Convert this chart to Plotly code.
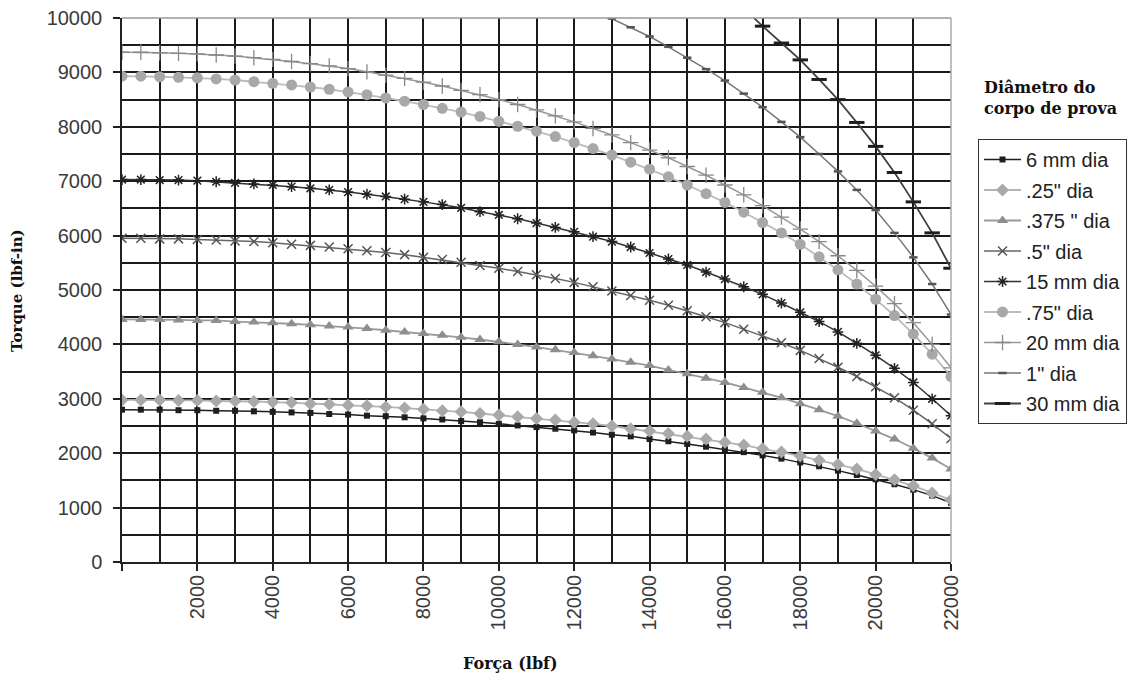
import plotly.graph_objects as go

# ---------------- data ----------------
force = [0, 500, 1000, 1500, 2000, 2500, 3000, 3500, 4000, 4500, 5000, 5500,
         6000, 6500, 7000, 7500, 8000, 8500, 9000, 9500, 10000, 10500, 11000,
         11500, 12000, 12500, 13000, 13500, 14000, 14500, 15000, 15500, 16000,
         16500, 17000, 17500, 18000, 18500, 19000, 19500, 20000, 20500, 21000,
         21500, 22000]

t_6mm = [2800, 2800, 2800, 2790, 2790, 2780, 2780, 2770, 2760, 2750,
         2740, 2720, 2710, 2690, 2680, 2660, 2640, 2620, 2590, 2570,
         2540, 2510, 2480, 2450, 2420, 2380, 2340, 2310, 2260, 2220,
         2170, 2120, 2070, 2020, 1960, 1900, 1830, 1760, 1680, 1600,
         1520, 1430, 1330, 1220, 1090]

t_025in = [2980, 2980, 2980, 2970, 2970, 2960, 2960, 2950, 2940, 2930,
           2910, 2900, 2880, 2870, 2850, 2830, 2810, 2780, 2760, 2730,
           2700, 2670, 2640, 2610, 2570, 2540, 2500, 2450, 2410, 2360,
           2310, 2260, 2200, 2150, 2080, 2020, 1950, 1870, 1790, 1710,
           1610, 1510, 1400, 1270, 1140]

t_0375in = [4460, 4460, 4460, 4450, 4440, 4440, 4420, 4410, 4400, 4380,
            4360, 4340, 4320, 4290, 4260, 4230, 4200, 4170, 4130, 4090,
            4050, 4000, 3950, 3900, 3850, 3790, 3730, 3670, 3610, 3530,
            3460, 3380, 3300, 3210, 3120, 3020, 2910, 2800, 2680, 2550,
            2410, 2260, 2090, 1910, 1710]

t_05in = [5950, 5950, 5940, 5940, 5930, 5920, 5900, 5890, 5870, 5840,
          5820, 5790, 5760, 5720, 5690, 5650, 5600, 5560, 5510, 5450,
          5400, 5340, 5280, 5210, 5140, 5060, 4980, 4900, 4810, 4720,
          4620, 4510, 4400, 4280, 4160, 4030, 3890, 3740, 3580, 3410,
          3220, 3020, 2790, 2540, 2270]

t_15mm = [7030, 7030, 7020, 7020, 7010, 6990, 6970, 6950, 6930, 6900,
          6870, 6840, 6800, 6760, 6720, 6670, 6620, 6570, 6510, 6440,
          6380, 6310, 6230, 6150, 6070, 5980, 5890, 5790, 5680, 5570,
          5460, 5330, 5200, 5060, 4920, 4760, 4590, 4420, 4230, 4020,
          3800, 3560, 3300, 3000, 2690]

t_075in = [8930, 8930, 8920, 8910, 8900, 8880, 8860, 8830, 8800, 8770,
           8730, 8690, 8640, 8590, 8530, 8470, 8410, 8340, 8270, 8190,
           8100, 8010, 7920, 7820, 7710, 7600, 7480, 7350, 7220, 7080,
           6930, 6770, 6610, 6430, 6240, 6050, 5840, 5610, 5370, 5110,
           4830, 4530, 4190, 3820, 3410]

t_20mm = [9370, 9370, 9360, 9350, 9340, 9320, 9300, 9270, 9240, 9200,
          9160, 9120, 9070, 9010, 8950, 8890, 8820, 8750, 8670, 8590,
          8500, 8410, 8310, 8200, 8090, 7970, 7850, 7710, 7570, 7430,
          7270, 7110, 6930, 6750, 6550, 6340, 6120, 5890, 5630, 5360,
          5070, 4750, 4400, 4000, 3570]

force_1in = [12500, 13000, 13500, 14000, 14500, 15000, 15500, 16000, 16500,
             17000, 17500, 18000, 18500, 19000, 19500, 20000, 20500, 21000,
             21500, 22000]
t_1in = [10150, 9990, 9830, 9660, 9470, 9270, 9060, 8850, 8610,
         8360, 8090, 7810, 7500, 7180, 6840, 6470, 6050, 5600,
         5110, 4550]

force_30mm = [16500, 17000, 17500, 18000, 18500, 19000, 19500, 20000, 20500,
              21000, 21500, 22000]
t_30mm = [10180, 9850, 9540, 9230, 8870, 8500, 8080, 7640, 7160,
          6620, 6050, 5400]

names = ['6 mm dia', '.25" dia', '.375 " dia', '.5" dia', '15 mm dia',
         '.75" dia', '20 mm dia', '1" dia', '30 mm dia']

x_tick_vals = [0, 2000, 4000, 6000, 8000, 10000, 12000, 14000, 16000, 18000, 20000, 22000]
x_tick_text = ['', '2000', '4000', '6000', '8000', '10000', '12000', '14000',
               '16000', '18000', '20000', '22000']
x_minor_vals = [1000, 3000, 5000, 7000, 9000, 11000, 13000, 15000, 17000, 19000, 21000]
y_tick_vals = [0, 1000, 2000, 3000, 4000, 5000, 6000, 7000, 8000, 9000, 10000]
y_tick_text = ['0', '1000', '2000', '3000', '4000', '5000', '6000', '7000',
               '8000', '9000', '10000']
y_minor_vals = [500, 1500, 2500, 3500, 4500, 5500, 6500, 7500, 8500, 9500]

# ---------------- styles ----------------
series = [
    (force, t_6mm, dict(line='#1e1e1e', lw=1.5, sym='square', ms=6, mc='#1e1e1e', mlw=0)),
    (force, t_025in, dict(line='#b4b4b4', lw=1.8, sym='diamond', ms=10, mc='#a9a9a9', mlw=0)),
    (force, t_0375in, dict(line='#9a9a9a', lw=1.8, sym='triangle-up', ms=10, mc='#8e8e8e', mlw=0)),
    (force, t_05in, dict(line='#666666', lw=1.5, sym='x-thin-open', ms=9, mc='#555555', mlw=1.5)),
    (force, t_15mm, dict(line='#333333', lw=1.5, sym='asterisk-open', ms=9, mc='#222222', mlw=1.5)),
    (force, t_075in, dict(line='#bcbcbc', lw=1.8, sym='circle', ms=11, mc='#a8a8a8', mlw=0)),
    (force, t_20mm, dict(line='#999999', lw=1.5, sym='cross-thin-open', ms=11, mc='#888888', mlw=1.3)),
    (force_1in, t_1in, dict(line='#777777', lw=1.5, sym='line-ew-open', ms=6, mc='#555555', mlw=2.5)),
    (force_30mm, t_30mm, dict(line='#404040', lw=1.8, sym='line-ew-open', ms=11, mc='#1e1e1e', mlw=3)),
]

fig = go.Figure()
for i, (xs, ys, st) in enumerate(series):
    fig.add_trace(go.Scatter(
        x=xs, y=ys, name=names[i], mode='lines+markers',
        legendgroup='g%d' % i,
        line=dict(color=st['line'], width=st['lw']),
        marker=dict(symbol=st['sym'], size=st['ms'], color=st['mc'],
                    line=dict(color=st['mc'], width=st['mlw'])),
    ))

tick_font = dict(family='Liberation Sans, Arial, sans-serif', size=20, color='#3a3a3a')
grid_col = '#1a1a1a'

# the page body adds an 8px offset, so the figure is laid out 8px smaller
fig.update_layout(
    width=1128, height=674,
    margin=dict(l=114, r=185, t=10, b=120, autoexpand=False),
    paper_bgcolor='white', plot_bgcolor='white',
    showlegend=True,
    legend=dict(
        x=1.0326, y=0.7776, xanchor='left', yanchor='top',
        bordercolor='#333333', borderwidth=1, bgcolor='white',
        font=dict(family='Liberation Sans, Arial, sans-serif', size=20, color='#222222'),
        traceorder='grouped', tracegroupgap=1.5, itemwidth=37,
    ),
    xaxis=dict(
        range=[0, 22000], tickmode='array', tickvals=x_tick_vals, ticktext=x_tick_text,
        tickangle=-90, ticks='outside', ticklen=7, tickwidth=1.5, tickcolor='#222222',
        showline=True, linecolor='#222222', linewidth=1.5, automargin=False,
        ticklabeloverflow='allow', ticklabelstandoff=-4,
        showgrid=True, gridcolor=grid_col, gridwidth=1.6, zeroline=False,
        minor=dict(tickmode='array', tickvals=x_minor_vals, showgrid=True,
                   gridcolor=grid_col, gridwidth=1.6, ticks=''),
        tickfont=tick_font,
    ),
    yaxis=dict(
        range=[0, 10000], tickmode='array', tickvals=y_tick_vals, ticktext=y_tick_text,
        ticks='outside', ticklen=7, tickwidth=1.5, tickcolor='#222222',
        showline=True, linecolor='#222222', linewidth=1.5, automargin=False,
        ticklabelstandoff=7, ticklabeloverflow='allow',
        showgrid=True, gridcolor=grid_col, gridwidth=1.6, zeroline=False,
        minor=dict(tickmode='array', tickvals=y_minor_vals, showgrid=True,
                   gridcolor=grid_col, gridwidth=1.6, ticks=''),
        tickfont=tick_font,
    ),
    shapes=[
        dict(type='line', xref='paper', yref='paper', x0=0, x1=1, y0=1, y1=1,
             line=dict(color='#999999', width=1.5), layer='above'),
        dict(type='line', xref='paper', yref='paper', x0=1, x1=1, y0=0, y1=1,
             line=dict(color='#aaaaaa', width=1.5), layer='above'),
    ],
    annotations=[
        dict(text='<b>Diâmetro do<br>corpo de prova</b>', xref='paper', yref='paper',
             x=1.0374, y=0.893, xanchor='left', yanchor='top', align='left',
             showarrow=False,
             font=dict(family='DejaVu Serif, serif', size=16, color='#111111')),
        dict(text='<b>Torque (lbf-in)</b>', xref='paper', yref='paper',
             x=-0.1267, y=0.5, xanchor='center', yanchor='middle', textangle=-90,
             showarrow=False,
             font=dict(family='DejaVu Serif, serif', size=15, color='#111111')),
        dict(text='<b>Força (lbf)</b>', xref='paper', yref='paper',
             x=0.4692, y=-0.1857, xanchor='center', yanchor='middle',
             showarrow=False,
             font=dict(family='DejaVu Serif, serif', size=16, color='#111111')),
    ],
)

fig.write_html('out.html')
